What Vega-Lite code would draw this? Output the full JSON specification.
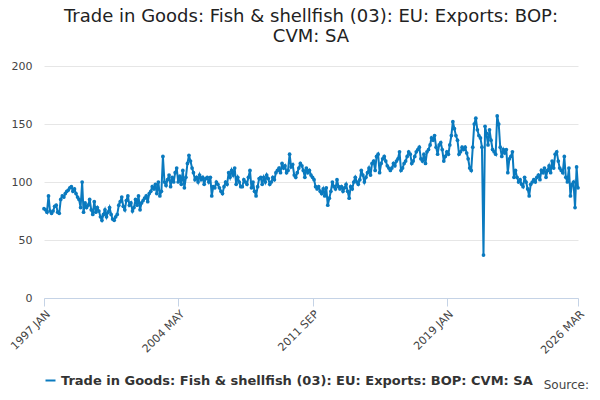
{
  "$schema": "https://vega.github.io/schema/vega-lite/v6.json",
  "width": 600,
  "height": 400,
  "autosize": {"type": "fit", "contains": "padding"},
  "padding": {"left": 8, "right": 14, "top": 8, "bottom": 12},
  "title": {
    "text": ["Trade in Goods: Fish & shellfish (03): EU: Exports: BOP:", "CVM: SA"],
    "fontSize": 18, "fontWeight": "normal", "font": "DejaVu Sans", "color": "#222", "offset": 14
  },
  "config": {"view": {"stroke": null}, "font": "DejaVu Sans"},
  "data": {"values": [
    {"yr": 1997, "v": [77,76,74,88,75,73,75,79,80,74,73,85]},
    {"yr": 1998, "v": [88,87,90,92,93,95,96,92,94,90,87,85]},
    {"yr": 1999, "v": [78,100,74,82,78,80,85,76,72,83,74,78]},
    {"yr": 2000, "v": [75,70,67,72,76,70,74,78,72,68,67,70]},
    {"yr": 2001, "v": [72,80,83,87,79,76,84,88,80,82,75,78]},
    {"yr": 2002, "v": [85,80,88,76,82,84,86,88,83,90,92,96]},
    {"yr": 2003, "v": [94,98,90,100,88,92,122,100,97,102,106,96]},
    {"yr": 2004, "v": [104,100,108,112,100,105,98,110,95,104,116,123]},
    {"yr": 2005, "v": [118,112,108,102,104,100,106,102,104,98,103,104]},
    {"yr": 2006, "v": [100,104,88,96,95,100,98,95,92,90,96,100]},
    {"yr": 2007, "v": [98,108,104,110,106,112,98,104,100,96,96,102]},
    {"yr": 2008, "v": [100,98,104,110,95,100,92,88,96,103,104,98]},
    {"yr": 2009, "v": [104,100,106,103,98,100,104,102,108,110,112,108]},
    {"yr": 2010, "v": [116,112,114,108,110,124,113,115,106,104,108,112]},
    {"yr": 2011, "v": [116,114,110,104,112,108,110,106,104,102,96,94]},
    {"yr": 2012, "v": [96,92,90,94,88,95,80,86,92,100,96,94]},
    {"yr": 2013, "v": [102,96,94,96,92,95,98,92,86,96,94,100]},
    {"yr": 2014, "v": [104,100,98,102,110,106,100,104,108,112,106,116]},
    {"yr": 2015, "v": [118,110,122,124,108,116,120,122,118,114,112,110]},
    {"yr": 2016, "v": [112,116,114,118,120,126,110,112,116,118,122,126]},
    {"yr": 2017, "v": [124,116,118,122,126,128,130,120,118,124,116,126]},
    {"yr": 2018, "v": [128,132,138,136,140,130,124,132,134,128,118,122]},
    {"yr": 2019, "v": [126,124,132,140,152,146,140,136,124,126,130,128]},
    {"yr": 2020, "v": [130,125,120,112,110,130,150,155,145,140,138,130]},
    {"yr": 2021, "v": [37,148,142,132,145,136,128,126,124,157,150,130]},
    {"yr": 2022, "v": [122,128,125,128,108,120,122,126,104,110,104,100]},
    {"yr": 2023, "v": [102,98,96,104,100,94,88,98,100,102,100,104]},
    {"yr": 2024, "v": [106,102,110,108,112,104,110,114,108,118,112,124]},
    {"yr": 2025, "v": [126,118,112,110,108,122,104,100,112,88,98,100]},
    {"yr": 2026, "v": [78,113,95]}
  ]},
  "transform": [
    {"flatten": ["v"]},
    {"window": [{"op": "row_number", "as": "m"}], "groupby": ["yr"]},
    {"calculate": "datetime(datum.yr, datum.m - 1, 1)", "as": "t"},
    {"calculate": "'Trade in Goods: Fish & shellfish (03): EU: Exports: BOP: CVM: SA'", "as": "series"}
  ],
  "layer": [
    {
      "mark": {"type": "line", "point": {"size": 14, "filled": true}, "strokeWidth": 2},
      "encoding": {
        "x": {
          "field": "t", "type": "temporal", "title": null,
          "scale": {"domain": [{"year": 1997, "month": 1, "date": 1}, {"year": 2026, "month": 3, "date": 1}]},
          "axis": {
            "values": [
              {"year": 1997, "month": 1, "date": 1},
              {"year": 2004, "month": 5, "date": 1},
              {"year": 2011, "month": 9, "date": 1},
              {"year": 2019, "month": 1, "date": 1},
              {"year": 2026, "month": 3, "date": 1}
            ],
            "labelExpr": "upper(timeFormat(datum.value, '%Y %b'))",
            "labelAngle": -45, "labelAlign": "right", "labelColor": "#444", "labelFontSize": 11,
            "grid": false, "domainColor": "#c5d3e6", "tickColor": "#c5d3e6", "tickSize": 8
          }
        },
        "y": {
          "field": "v", "type": "quantitative", "title": null,
          "scale": {"domain": [0, 200]},
          "axis": {"values": [0,50,100,150,200], "domain": false, "ticks": false,
                   "gridColor": "#e6e6e6", "labelColor": "#444", "labelFontSize": 11, "labelPadding": 12}
        },
        "color": {
          "field": "series", "type": "nominal", "title": null,
          "scale": {"range": ["#0a7abf"]},
          "legend": {"orient": "bottom", "labelFontSize": 13, "labelFontWeight": "bold", "labelColor": "#333",
                     "labelLimit": 600, "symbolType": "stroke", "symbolStrokeWidth": 2, "offset": 18}
        }
      }
    },
    {
      "data": {"values": [{"s": "Source:"}]},
      "mark": {"type": "text", "align": "right", "baseline": "bottom", "fontSize": 12, "color": "#444"},
      "encoding": {"text": {"field": "s"}, "x": {"value": 545}, "y": {"value": 326}}
    }
  ]
}
